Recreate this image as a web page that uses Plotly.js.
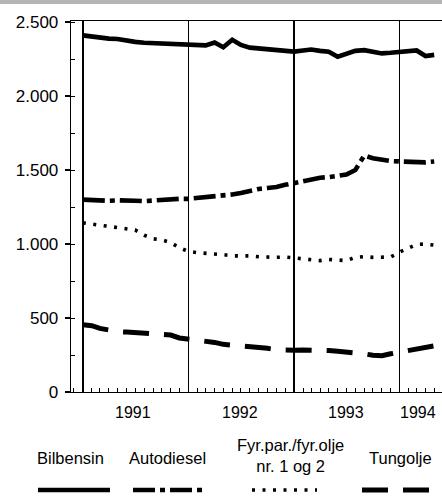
<!DOCTYPE html>
<html>
<head>
<meta charset="utf-8">
<script src="https://cdn.plot.ly/plotly-3.0.1.min.js"></script>
<style>html,body{margin:0;padding:0;background:#fff;}#chart{width:442px;height:498px;}</style>
</head>
<body>
<div id="chart"></div>
<script>
// Months: Jan 1991 .. May 1994
const months = [
  '1991-01-01','1991-02-01','1991-03-01','1991-04-01','1991-05-01','1991-06-01','1991-07-01','1991-08-01','1991-09-01','1991-10-01','1991-11-01','1991-12-01',
  '1992-01-01','1992-02-01','1992-03-01','1992-04-01','1992-05-01','1992-06-01','1992-07-01','1992-08-01','1992-09-01','1992-10-01','1992-11-01','1992-12-01',
  '1993-01-01','1993-02-01','1993-03-01','1993-04-01','1993-05-01','1993-06-01','1993-07-01','1993-08-01','1993-09-01','1993-10-01','1993-11-01','1993-12-01',
  '1994-01-01','1994-02-01','1994-03-01','1994-04-01','1994-05-01'
];
const bilbensin = [2410,2400,2395,2388,2385,2372,2366,2360,2358,2355,2350,2350,
  2348,2348,2342,2362,2330,2380,2345,2327,2322,2315,2311,2302,
  2300,2308,2314,2305,2300,2266,2285,2305,2310,2296,2288,2292,
  2295,2298,2308,2270,2278];
const autodiesel = [1300,1295,1290,1292,1295,1297,1292,1290,1295,1302,1305,1305,
  1305,1310,1320,1325,1328,1335,1345,1360,1372,1378,1385,1400,
  1412,1425,1437,1448,1452,1458,1470,1500,1598,1580,1568,1560,
  1558,1555,1550,1552,1558];
const fyrolje = [1143,1135,1125,1118,1112,1105,1095,1060,1035,1028,1010,975,
  950,942,938,935,928,920,923,920,914,910,910,912,
  905,896,890,888,896,892,888,910,915,910,910,912,
  945,975,998,1000,992];
const tungolje = [455,448,430,415,408,405,400,398,395,392,385,365,
  358,356,350,335,322,318,312,308,302,295,285,280,
  282,284,284,283,280,275,272,265,258,248,245,258,
  268,280,290,300,312];
const seriesNames = ['Bilbensin','Autodiesel','Fyr.par./fyr.olje<br>nr. 1 og 2','Tungolje'];
const yearGrid = ['1991-01-01','1992-01-01','1993-01-01','1994-01-01'];
const yearLabels = ['1991','1992','1993','1994'];
const yearLabelPos = ['1991-06-24','1992-06-28','1993-07-01','1994-03-07'];

const FONT = 'Liberation Sans, Arial, Helvetica, sans-serif';
const L = 71, T = 21, W = 371, H = 371;
const px = p => (p - L) / W;
const py = p => (T + H - p) / H;

const styles = [
  {width: 4.6, dash: 'solid'},
  {width: 4.6, dash: '22px,5px,5px,5px'},
  {width: 3.6, dash: '3px,7.5px'},
  {width: 5, dash: '26px,15px'}
];
const data = [bilbensin, autodiesel, fyrolje, tungolje];

const traces = data.map((vals, i) => ({
  type: 'scatter', mode: 'lines', x: months, y: vals,
  name: seriesNames[i], showlegend: false, hoverinfo: 'skip',
  line: {color: '#000', width: styles[i].width, dash: styles[i].dash}
}));

const annotations = yearLabels.map((t, i) => ({
  text: t, x: yearLabelPos[i], xref: 'x', y: py(412), yref: 'paper',
  showarrow: false, xanchor: 'center', yanchor: 'middle',
  font: {family: FONT, size: 16, color: '#000'}
}));
const legendX = [[38,110],[133,205],[252,317],[362,440]];
const legendTextX = [70,167,290,400];
seriesNames.forEach((n, i) => {
  annotations.push({text: n, x: px(legendTextX[i]), xref: 'paper', y: py(i === 2 ? 456 : 458), yref: 'paper',
    showarrow: false, xanchor: 'center', yanchor: 'middle', align: 'center',
    font: {family: FONT, size: 16.5, color: '#000'}});
});
const shapes = legendX.map((r, i) => ({
  type: 'line', xref: 'paper', yref: 'paper', x0: px(r[0]), x1: px(r[1]), y0: py(490), y1: py(490),
  line: {color: '#000', width: styles[i].width, dash: styles[i].dash}
}));
shapes.push({type: 'rect', xref: 'paper', yref: 'paper', x0: px(0), x1: px(442), y0: py(4), y1: py(0),
  fillcolor: '#b4b4b4', line: {width: 0}, layer: 'above'});

const layout = {
  width: 442, height: 498,
  margin: {l: L, r: 0, t: T, b: 498 - T - H, pad: 0},
  paper_bgcolor: '#fff', plot_bgcolor: '#fff',
  separators: ',.',
  font: {family: FONT, size: 17, color: '#000'},
  xaxis: {
    type: 'date', range: ['1990-11-21', '1994-05-28'],
    tickmode: 'array', tickvals: yearGrid, showticklabels: false, ticks: '',
    showgrid: true, gridcolor: '#000', gridwidth: 1.5,
    showline: true, linecolor: '#000', linewidth: 1.3, mirror: true,
    zeroline: false,
    minor: {dtick: 'M1', tick0: '1991-01-01', ticks: 'inside', ticklen: 4, tickcolor: '#000', tickwidth: 1, showgrid: false}
  },
  yaxis: {
    range: [0, 2507], tickmode: 'linear', tick0: 0, dtick: 500, tickformat: ',d',
    ticks: 'outside', ticklen: 5, tickcolor: '#000', tickwidth: 1.2,
    ticklabelstandoff: 3,
    showgrid: false, zeroline: false,
    showline: true, linecolor: '#000', linewidth: 1.3,
    tickfont: {family: FONT, size: 17, color: '#000'},
    minor: {dtick: 250, tick0: 0, ticks: 'inside', ticklen: 4, tickcolor: '#000', tickwidth: 1}
  },
  annotations: annotations,
  shapes: shapes
};

Plotly.newPlot('chart', traces, layout, {staticPlot: true, displayModeBar: false});
</script>
</body>
</html>
